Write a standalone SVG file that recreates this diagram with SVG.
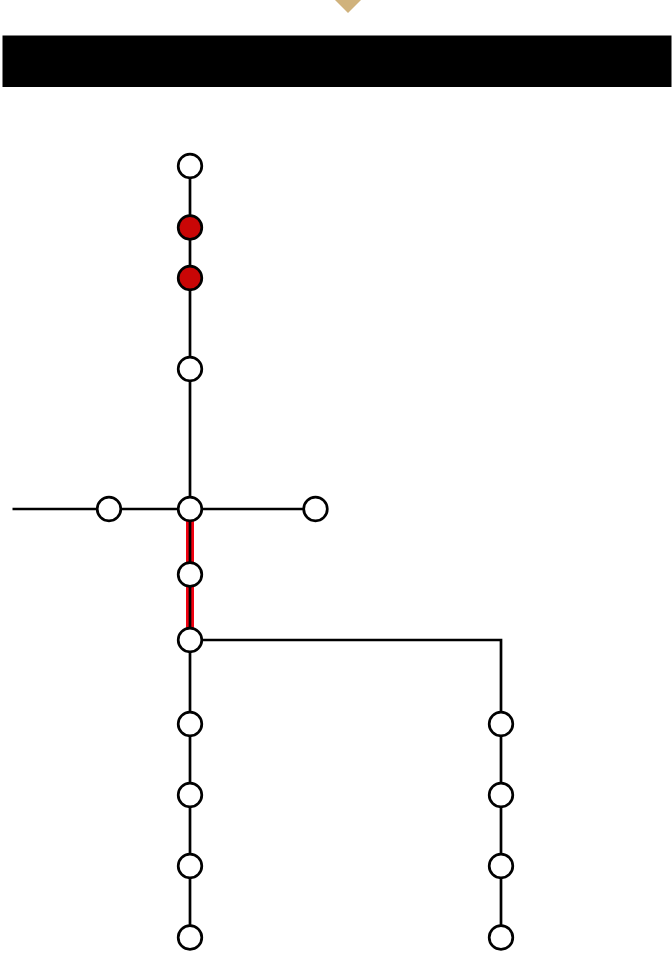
<svg xmlns="http://www.w3.org/2000/svg" width="672" height="969" viewBox="0 0 672 969">
<style>
.w{stroke:#000;stroke-width:2.700;fill:none}
.r{stroke:#f00010;stroke-width:8;fill:none}
circle{stroke:#000;stroke-width:2.700;fill:#fff}
.s{fill:#c90606}
</style>
<rect width="672" height="969" fill="#fff"/>
<polygon id="pointer" points="335,0 361,0 348,13" fill="#d0b27c"/>
<rect id="bar" x="2.500" y="35.500" width="669" height="51.500" fill="#000"/>
<g id="connectors">
<path class="r" d="M190 509V640"/>
<path class="w" d="M190 166V938M12.500 509H315M190 640H501V938"/>
</g>
<g id="n1"><circle cx="190" cy="166" r="11.800"/></g>
<g id="n2"><circle class="s" cx="190" cy="227.500" r="11.800"/></g>
<g id="n3"><circle class="s" cx="190" cy="278" r="11.800"/></g>
<g id="n4"><circle cx="190" cy="369" r="11.800"/></g>
<g id="n5"><circle cx="109" cy="509" r="11.800"/></g>
<g id="n6"><circle cx="190" cy="509" r="11.800"/></g>
<g id="n7"><circle cx="315.500" cy="509" r="11.800"/></g>
<g id="n8"><circle cx="190" cy="574.500" r="11.800"/></g>
<g id="n9"><circle cx="190" cy="640" r="11.800"/></g>
<g id="n10"><circle cx="190" cy="724" r="11.800"/></g>
<g id="n11"><circle cx="190" cy="795" r="11.800"/></g>
<g id="n12"><circle cx="190" cy="866" r="11.800"/></g>
<g id="n13"><circle cx="190" cy="937.500" r="11.800"/></g>
<g id="n14"><circle cx="501" cy="724" r="11.800"/></g>
<g id="n15"><circle cx="501" cy="795" r="11.800"/></g>
<g id="n16"><circle cx="501" cy="866" r="11.800"/></g>
<g id="n17"><circle cx="501" cy="937.500" r="11.800"/></g>
</svg>
